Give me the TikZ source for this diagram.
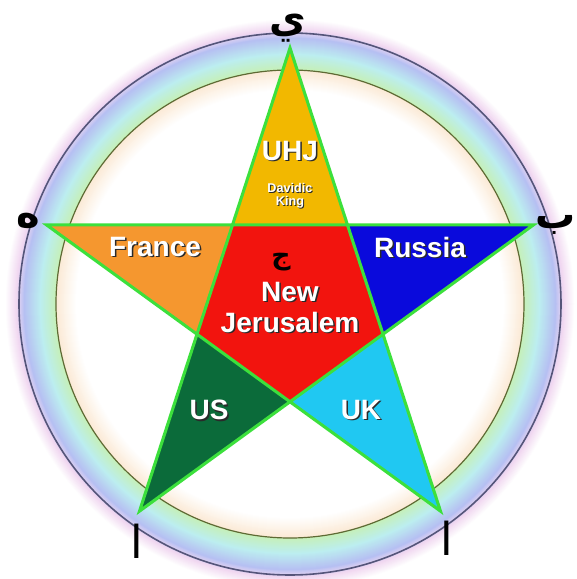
\documentclass[tikz,border=0pt]{standalone}
\usepackage{fontspec}
\setmainfont{Liberation Sans}
\newfontfamily\arabicfont[Script=Arabic]{DejaVu Sans}
\TeXXeTstate=1
\definecolor{cgold}{HTML}{F2B800}
\definecolor{corange}{HTML}{F5972F}
\definecolor{cblue}{HTML}{0A0ADC}
\definecolor{cdgreen}{HTML}{0B6B3A}
\definecolor{ccyan}{HTML}{20C8F2}
\definecolor{cred}{HTML}{F2140E}
\definecolor{cedge}{HTML}{3CE03C}
\definecolor{rpeach}{HTML}{FBEAD6}
\definecolor{rgreen}{HTML}{C6F0B6}
\definecolor{rcyan}{HTML}{BCEEF0}
\definecolor{rlav}{HTML}{B6C0F2}
\definecolor{rpink}{HTML}{F1D8F1}
\definecolor{outline}{HTML}{55557A}
\definecolor{inline}{HTML}{5E6A34}
\definecolor{shadowc}{HTML}{2A2A2A}
\tikzset{
  lbl/.style={font=\bfseries\fontsize{21}{24}\selectfont, text=white, inner sep=0pt},
  lblsh/.style={font=\bfseries\fontsize{21}{24}\selectfont, text=shadowc, inner sep=0pt},
  small/.style={font=\bfseries\fontsize{9.5}{11}\selectfont, text=white, inner sep=0pt},
  smallsh/.style={font=\bfseries\fontsize{9.5}{11}\selectfont, text=shadowc, inner sep=0pt},
  letter/.style={font=\arabicfont\bfseries\fontsize{30}{32}\selectfont, text=black, inner sep=0pt},
  alif/.style={font=\arabicfont\fontsize{34}{36}\selectfont, text=black, inner sep=0pt},
  staredge/.style={draw=cedge, line width=2.3pt, line join=miter},
}
\begin{document}
\begin{tikzpicture}[x=0.75pt,y=0.75pt]
\useasboundingbox (0,0) rectangle (577,579);
\coordinate (C) at (290,275);
% ring (concentric fills)
\foreach \r [evaluate=\r as \p using {(285-\r)/11*100}] in {285,284,...,274}
  \fill[rpink!\p!white] (C) circle (\r);
\foreach \r [evaluate=\r as \p using {(274-\r)/8*100}] in {274,273,...,266}
  \fill[rlav!\p!rpink] (C) circle (\r);
\foreach \r [evaluate=\r as \p using {(266-\r)/16*100}] in {266,265,...,250}
  \fill[rcyan!\p!rlav] (C) circle (\r);
\foreach \r [evaluate=\r as \p using {(250-\r)/16*100}] in {250,249,...,234}
  \fill[rgreen!\p!rcyan] (C) circle (\r);
\foreach \r [evaluate=\r as \p using {(234-\r)/20*100}] in {234,233,...,214}
  \fill[white!\p!rpeach] (C) circle (\r);
\draw[outline, line width=1.2pt] (C) circle (271);
\draw[inline, line width=0.9pt] (C) circle (234);
% star vertices
\foreach \n/\a in {1/90,2/162,3/234,4/306,5/18}{
  \coordinate (O\n) at ([shift={(\a:256)}]C);
}
\foreach \n/\a in {1/54,2/126,3/198,4/270,5/342}{
  \coordinate (I\n) at ([shift={(\a:97.8)}]C);
}
% points
\fill[cgold] (O1) -- (I1) -- (I2) -- cycle;
\fill[corange] (O2) -- (I2) -- (I3) -- cycle;
\fill[cdgreen] (O3) -- (I3) -- (I4) -- cycle;
\fill[ccyan] (O4) -- (I4) -- (I5) -- cycle;
\fill[cblue] (O5) -- (I5) -- (I1) -- cycle;
\fill[cred] (I1) -- (I2) -- (I3) -- (I4) -- (I5) -- cycle;
\draw[staredge] (O1) -- (O3) -- (O5) -- (O2) -- (O4) -- cycle;
% labels
\node[lblsh] (uhjs) at (291.5,426.5) {UHJ};
\node[lbl] (uhj) at (290,428) {UHJ};
\node[smallsh] (davs) at (291,390) {Davidic};
\node[small] (dav) at (290,391) {Davidic};
\node[smallsh] (kings) at (291,376) {King};
\node[small] (king) at (290,377) {King};
\node[lblsh] (frs) at (156.5,330.5) {France};
\node[lbl] (fr) at (155,332) {France};
\node[lblsh] (rus) at (421.5,330.5) {Russia};
\node[lbl] (ru) at (420,332) {Russia};
\node[letter, font=\arabicfont\bfseries\fontsize{20}{22}\selectfont] (sym) at (281,317) {\beginR ج\endR};
\node[lblsh] (news) at (291.5,285.5) {New};
\node[lbl] (new) at (290,287) {New};
\node[lblsh] (jers) at (291.5,255.5) {Jerusalem};
\node[lbl] (jer) at (290,257) {Jerusalem};
\node[lblsh] (uss) at (210.5,167.5) {US};
\node[lbl] (us) at (209,169) {US};
\node[lblsh] (uks) at (362.5,167.5) {UK};
\node[lbl] (uk) at (361,169) {UK};
% letters
\node[letter] (yeh) at (288,551) {\beginR ي\endR};
\node[letter] (heh) at (28,358) {\beginR ه\endR};
\node[letter] (beh) at (556,354) {\beginR ب\endR};
\node[alif] (alifl) at (137,38) {\beginR ا\endR};
\node[alif] (alifr) at (447,41) {\beginR ا\endR};
\end{tikzpicture}
\end{document}
